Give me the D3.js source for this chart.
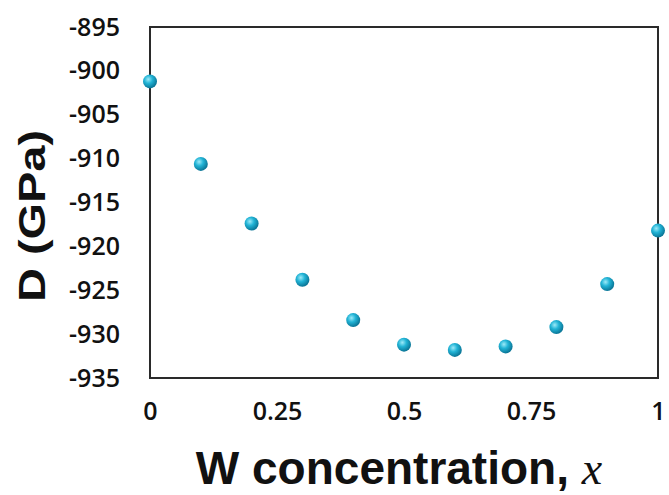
<!DOCTYPE html>
<html>
<head>
<meta charset="utf-8">
<script src="https://cdnjs.cloudflare.com/ajax/libs/d3/7.8.5/d3.min.js"></script>
<style>
  body { margin: 0; background: #fff; }
  svg text { fill: #111; }
</style>
</head>
<body>
<div id="chart"></div>
<script>
var concentration = [0, 0.1, 0.2, 0.3, 0.4, 0.5, 0.6, 0.7, 0.8, 0.9, 1.0];
var dValues = [-901.2, -910.6, -917.4, -923.8, -928.4, -931.2, -931.8, -931.4, -929.2, -924.3, -918.2];
var xTicks = [0, 0.25, 0.5, 0.75, 1];
var yTicks = [-895, -900, -905, -910, -915, -920, -925, -930, -935];

var width = 669, height = 495;
var margin = {left: 150, right: 11, top: 27, bottom: 117};

var svg = d3.select("#chart")
    .append("svg")
    .attr("width", width)
    .attr("height", height);

// sphere look for the markers
var grad = svg.append("defs").append("radialGradient")
    .attr("id", "ball")
    .attr("cx", "38%").attr("cy", "35%").attr("r", "65%");
grad.append("stop").attr("offset", "0%").attr("stop-color", "#9eeaf8");
grad.append("stop").attr("offset", "45%").attr("stop-color", "#22b4d6");
grad.append("stop").attr("offset", "100%").attr("stop-color", "#0a7596");

var x = d3.scaleLinear()
    .domain([0, 1])
    .range([margin.left, width - margin.right]);

var y = d3.scaleLinear()
    .domain([-935, -895])
    .range([height - margin.bottom, margin.top]);

// y tick labels (no tick marks), plain hyphen like the original
var yAxis = svg.append("g")
    .attr("transform", "translate(" + margin.left + ",0)")
    .call(d3.axisLeft(y).tickValues(yTicks).tickSize(0).tickPadding(30).tickFormat(function(d){ return String(d); }));
yAxis.select(".domain").remove();

var xAxis = svg.append("g")
    .attr("transform", "translate(0," + (height - margin.bottom) + ")")
    .call(d3.axisBottom(x).tickValues(xTicks).tickSize(0).tickPadding(24).tickFormat(function(d){ return String(d); }));
xAxis.select(".domain").remove();

svg.selectAll(".tick text")
    .style("font-family", "'Open Sans', sans-serif")
    .style("font-weight", "600")
    .style("font-size", "25px")
    .style("fill", "#111");

// plot frame
svg.append("rect")
    .attr("x", x(0))
    .attr("y", y(-895))
    .attr("width", x(1) - x(0))
    .attr("height", y(-935) - y(-895))
    .style("fill", "none")
    .style("stroke", "#2a2a2a")
    .style("stroke-width", 2);

svg.append("g").selectAll("circle")
    .data(concentration)
    .enter()
    .append("circle")
    .attr("cx", function(d) { return x(d); })
    .attr("cy", function(d, i) { return y(dValues[i]); })
    .attr("r", 7)
    .style("fill", "url(#ball)");

// axis titles
svg.append("text")
    .attr("transform", "translate(45,216) rotate(-90)")
    .attr("text-anchor", "middle")
    .attr("textLength", 172)
    .attr("lengthAdjust", "spacingAndGlyphs")
    .style("font-family", "'Liberation Sans', Arial, sans-serif")
    .style("font-weight", "bold")
    .style("font-size", "36px")
    .text("D (GPa)");

var xt = svg.append("text")
    .attr("x", 399)
    .attr("y", 484)
    .attr("text-anchor", "middle")
    .style("font-family", "'Liberation Sans', Arial, sans-serif")
    .style("font-weight", "bold")
    .style("font-size", "46px");
xt.append("tspan").text("W concentration, ");
xt.append("tspan")
    .style("font-family", "'Liberation Serif', 'Times New Roman', serif")
    .style("font-style", "italic")
    .style("font-weight", "normal")
    .text("x");
</script>
</body>
</html>
